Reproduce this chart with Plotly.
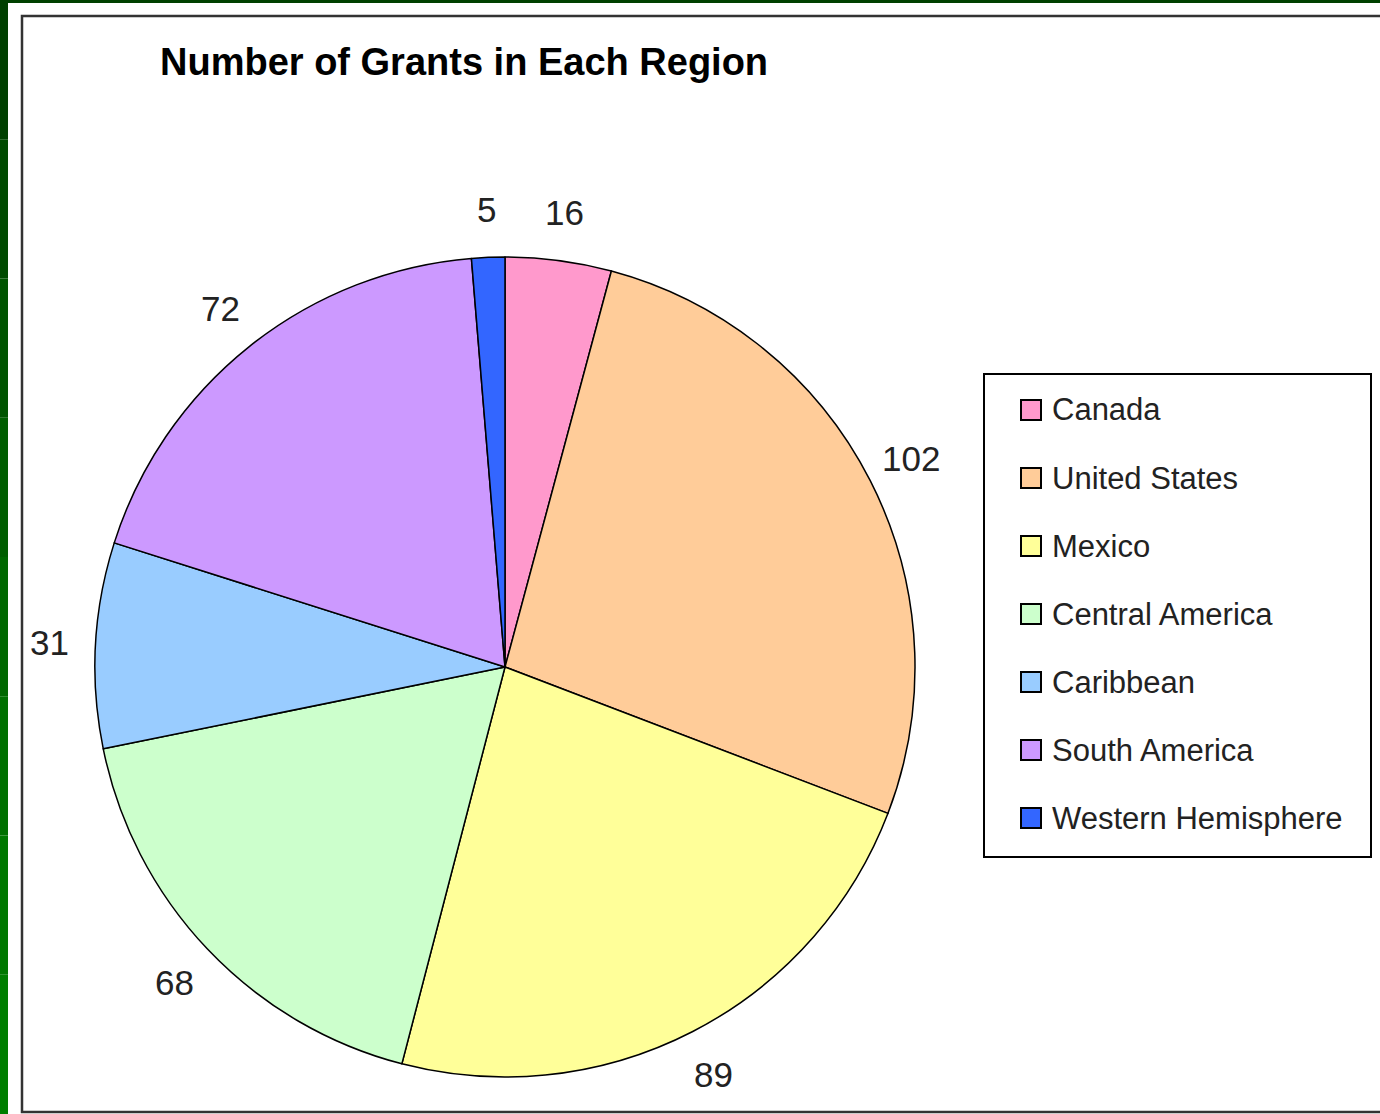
import math
import plotly.graph_objects as go

regions = ["Canada", "United States", "Mexico", "Central America",
           "Caribbean", "South America", "Western Hemisphere"]
grants = [16, 102, 89, 68, 31, 72, 5]
colors = ["#FF99CC", "#FFCC99", "#FFFF99", "#CCFFCC",
          "#99CCFF", "#CC99FF", "#3366FF"]

W, H = 1380, 1114
FONT = "Liberation Sans, Arial"


def px(x, y):
    # pixel position -> paper coords
    return x / W, 1 - y / H


cx, cy, r = 505, 667, 410
x0, y1 = px(cx - r, cy - r)
x1, y0 = px(cx + r, cy + r)

fig = go.Figure(go.Pie(
    labels=regions,
    values=grants,
    sort=False,
    direction="clockwise",
    rotation=0,
    marker=dict(colors=colors, line=dict(color="black", width=1.5)),
    textinfo="none",
    hoverinfo="label+value",
    domain=dict(x=[x0, x1], y=[y0, y1]),
    showlegend=False,
))

shapes = []
# green page edge on the left and top
greens = ["#004000", "#004a00", "#005400", "#005e00", "#006800",
          "#007000", "#007800", "#007e00"]
n = len(greens)
for i, g in enumerate(greens):
    shapes.append(dict(type="rect", xref="paper", yref="paper",
                       x0=0, x1=8 / W, y0=1 - (i + 1) / n, y1=1 - i / n,
                       fillcolor=g, line_width=0, layer="below"))
shapes.append(dict(type="rect", xref="paper", yref="paper",
                   x0=0, x1=1, y0=1 - 3 / H, y1=1,
                   fillcolor="#004000", line_width=0, layer="below"))
# chart frame
fx0, fy1 = px(22, 16)
fx1, fy0 = px(1390, 1112)
shapes.append(dict(type="rect", xref="paper", yref="paper",
                   x0=fx0, x1=fx1, y0=fy0, y1=fy1,
                   line=dict(color="#333", width=2.5)))

# legend box
lx0, ly1 = px(984, 374)
lx1, ly0 = px(1371, 857)
shapes.append(dict(type="rect", xref="paper", yref="paper",
                   x0=lx0, x1=lx1, y0=ly0, y1=ly1,
                   line=dict(color="black", width=2)))

annotations = [dict(text="<b>Number of Grants in Each Region</b>",
                    x=158 / W, y=1 - 62 / H, xref="paper", yref="paper",
                    xanchor="left", yanchor="middle", showarrow=False,
                    font=dict(family=FONT, size=38, color="black"))]

# value labels outside the slices, at each slice's mid angle
total = sum(grants)
cum = 0
for v in grants:
    mid = (cum + v / 2) / total * 2 * math.pi
    cum += v
    lx, ly = px(cx + 456 * math.sin(mid), cy - 458 * math.cos(mid))
    annotations.append(dict(text=str(v), x=lx, y=ly, xref="paper",
                            yref="paper", xanchor="center", yanchor="middle",
                            showarrow=False,
                            font=dict(family=FONT, size=35, color="#222")))

row0, step = 410, 68
for i, (name, c) in enumerate(zip(regions, colors)):
    yc = row0 + i * step
    sx0, sy1 = px(1021, yc - 10)
    sx1, sy0 = px(1041, yc + 10)
    shapes.append(dict(type="rect", xref="paper", yref="paper",
                       x0=sx0, x1=sx1, y0=sy0, y1=sy1,
                       fillcolor=c, line=dict(color="black", width=2)))
    tx, ty = px(1050, yc)
    annotations.append(dict(text=name, x=tx, y=ty, xref="paper",
                            yref="paper", xanchor="left", yanchor="middle",
                            showarrow=False,
                            font=dict(family=FONT, size=31, color="#222")))

fig.update_layout(
    width=W, height=H,
    margin=dict(l=0, r=0, t=0, b=0),
    paper_bgcolor="white",
    plot_bgcolor="white",
    shapes=shapes,
    annotations=annotations,
)

fig.write_html("out.html", config={"displayModeBar": False},
               post_script="document.body.style.margin='0';")
